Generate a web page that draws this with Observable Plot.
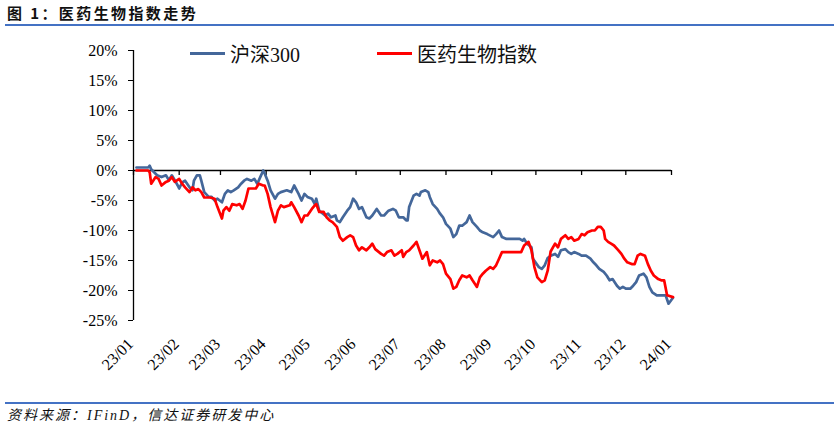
<!DOCTYPE html>
<html><head><meta charset="utf-8">
<script src="https://cdn.jsdelivr.net/npm/d3@7"></script>
<script src="https://cdn.jsdelivr.net/npm/@observablehq/plot@0.6"></script>
<style>
html,body{margin:0;padding:0;background:#fff;}
body{width:838px;height:434px;overflow:hidden;font-family:"Noto Sans CJK SC",sans-serif;}
#title{height:24px;margin:0 4px 0 5px;border-bottom:2px solid #4472C4;font-weight:bold;font-size:15px;line-height:26px;padding-left:2px;color:#111;letter-spacing:2.4px;white-space:nowrap;}
#wrap{position:relative;height:376px;}
#wrap svg{position:absolute;left:0;top:0;}
.leg{position:absolute;display:flex;align-items:center;height:26px;font-size:20px;color:#111;white-space:nowrap;font-family:"Liberation Serif","Noto Sans CJK SC",serif;}
.leg i{display:inline-block;width:35px;height:3px;margin-right:5px;}
#caption{margin:0 4px 0 5px;border-top:2px solid #4472C4;font-style:italic;font-size:14px;line-height:24px;padding-left:2px;color:#111;letter-spacing:2px;white-space:nowrap;font-family:"Liberation Serif","Noto Sans CJK SC",serif;}
</style></head>
<body>
<div id="title">图 1：医药生物指数走势</div>
<div id="wrap">
  <div class="leg" style="left:190px;top:14px;"><i style="background:#44679A"></i><span>沪深300</span></div>
  <div class="leg" style="left:377px;top:14px;"><i style="background:#FF0000"></i><span>医药生物指数</span></div>
</div>
<div id="caption">资料来源：IFinD，信达证券研发中心</div>
<script>
const seriesNames = ["沪深300", "医药生物指数"];
const yTicks = [20, 15, 10, 5, 0, -5, -10, -15, -20, -25];
const tickMonths = ["2023-01-01","2023-02-01","2023-03-01","2023-04-01","2023-05-01","2023-06-01","2023-07-01","2023-08-01","2023-09-01","2023-10-01","2023-11-01","2023-12-01","2024-01-01"];
const tickLabels = ["23/01","23/02","23/03","23/04","23/05","23/06","23/07","23/08","23/09","23/10","23/11","23/12","24/01"];

const hsDates = ["2023-01-03","2023-01-11","2023-01-12","2023-01-13","2023-01-15","2023-01-17","2023-01-20","2023-01-23","2023-01-25","2023-01-27","2023-01-29","2023-01-31","2023-02-01","2023-02-03","2023-02-05","2023-02-08","2023-02-10","2023-02-11","2023-02-13","2023-02-15","2023-02-16","2023-02-18","2023-02-21","2023-02-23","2023-02-25","2023-02-27","2023-03-02","2023-03-04","2023-03-06","2023-03-08","2023-03-10","2023-03-13","2023-03-15","2023-03-17","2023-03-19","2023-03-22","2023-03-24","2023-03-26","2023-03-28","2023-03-30","2023-03-31","2023-04-02","2023-04-04","2023-04-07","2023-04-09","2023-04-11","2023-04-15","2023-04-18","2023-04-20","2023-04-23","2023-04-25","2023-04-27","2023-04-29","2023-05-02","2023-05-04","2023-05-05","2023-05-07","2023-05-11","2023-05-13","2023-05-15","2023-05-18","2023-05-19","2023-05-21","2023-05-23","2023-05-26","2023-05-28","2023-05-30","2023-06-01","2023-06-03","2023-06-05","2023-06-08","2023-06-10","2023-06-12","2023-06-15","2023-06-18","2023-06-20","2023-06-23","2023-06-26","2023-06-28","2023-06-30","2023-07-03","2023-07-05","2023-07-06","2023-07-07","2023-07-10","2023-07-12","2023-07-14","2023-07-15","2023-07-18","2023-07-20","2023-07-21","2023-07-23","2023-07-26","2023-07-28","2023-07-30","2023-08-01","2023-08-04","2023-08-06","2023-08-08","2023-08-10","2023-08-12","2023-08-15","2023-08-17","2023-08-19","2023-08-22","2023-08-24","2023-08-26","2023-08-29","2023-09-02","2023-09-04","2023-09-06","2023-09-08","2023-09-11","2023-09-15","2023-09-20","2023-09-22","2023-09-23","2023-09-25","2023-09-28","2023-09-29","2023-10-03","2023-10-05","2023-10-07","2023-10-09","2023-10-11","2023-10-14","2023-10-16","2023-10-18","2023-10-21","2023-10-23","2023-10-25","2023-10-27","2023-10-30","2023-11-01","2023-11-04","2023-11-07","2023-11-09","2023-11-11","2023-11-13","2023-11-16","2023-11-18","2023-11-20","2023-11-22","2023-11-25","2023-11-27","2023-11-29","2023-12-01","2023-12-04","2023-12-06","2023-12-08","2023-12-10","2023-12-13","2023-12-15","2023-12-17","2023-12-19","2023-12-22","2023-12-25","2023-12-28","2023-12-30","2024-01-02"];
const hsValues = [0.5,0.5,0.8,0.2,-0.3,-0.8,-1.1,-0.8,-1.6,-0.8,-1.6,-2.5,-3.0,-2.0,-1.7,-2.8,-3.3,-1.7,-0.8,-0.8,-1.7,-3.6,-4.4,-4.4,-5.0,-4.7,-5.3,-3.9,-3.3,-3.6,-3.3,-2.8,-2.2,-1.7,-1.4,-1.7,-1.4,-2.2,-1.1,0.0,-0.5,-1.7,-3.3,-4.7,-3.9,-3.6,-3.3,-3.6,-2.5,-3.9,-5.0,-3.9,-4.4,-4.7,-5.6,-4.7,-6.7,-7.5,-7.2,-7.8,-7.5,-8.3,-8.6,-7.8,-6.7,-6.1,-4.7,-5.3,-6.4,-6.1,-7.8,-8.0,-7.5,-6.4,-7.5,-7.5,-6.7,-6.4,-6.7,-7.8,-7.8,-8.3,-8.3,-6.1,-4.2,-3.9,-4.2,-3.6,-3.3,-3.6,-4.4,-5.6,-6.4,-7.2,-7.8,-8.9,-9.7,-11.1,-10.6,-9.2,-9.2,-8.6,-7.5,-8.6,-9.4,-10.0,-10.3,-10.6,-11.1,-10.6,-10.0,-11.1,-11.4,-11.4,-11.4,-11.7,-11.4,-12.2,-12.8,-14.7,-16.1,-16.4,-15.8,-14.6,-14.2,-13.9,-14.4,-13.3,-13.1,-13.6,-13.9,-13.6,-13.9,-14.2,-14.2,-14.7,-15.3,-15.8,-16.4,-16.9,-17.5,-18.3,-18.1,-19.2,-19.7,-19.4,-19.7,-19.7,-19.2,-18.6,-17.5,-17.2,-17.8,-19.4,-20.3,-20.8,-20.8,-20.8,-22.2,-21.2];

const medDates = ["2023-01-03","2023-01-11","2023-01-12","2023-01-13","2023-01-16","2023-01-18","2023-01-20","2023-01-23","2023-01-25","2023-01-27","2023-01-29","2023-02-01","2023-02-03","2023-02-05","2023-02-08","2023-02-10","2023-02-12","2023-02-14","2023-02-16","2023-02-18","2023-02-22","2023-02-25","2023-02-27","2023-03-02","2023-03-03","2023-03-05","2023-03-07","2023-03-09","2023-03-12","2023-03-14","2023-03-16","2023-03-18","2023-03-20","2023-03-23","2023-03-25","2023-03-27","2023-03-30","2023-03-31","2023-04-02","2023-04-04","2023-04-07","2023-04-09","2023-04-11","2023-04-13","2023-04-17","2023-04-18","2023-04-20","2023-04-23","2023-04-25","2023-04-27","2023-04-29","2023-05-02","2023-05-04","2023-05-05","2023-05-07","2023-05-10","2023-05-12","2023-05-14","2023-05-16","2023-05-19","2023-05-21","2023-05-23","2023-05-26","2023-05-28","2023-05-30","2023-06-01","2023-06-03","2023-06-05","2023-06-08","2023-06-10","2023-06-12","2023-06-14","2023-06-18","2023-06-20","2023-06-22","2023-06-25","2023-06-27","2023-06-29","2023-07-02","2023-07-03","2023-07-05","2023-07-07","2023-07-10","2023-07-12","2023-07-14","2023-07-16","2023-07-19","2023-07-21","2023-07-23","2023-07-26","2023-07-28","2023-07-30","2023-08-01","2023-08-04","2023-08-06","2023-08-08","2023-08-10","2023-08-12","2023-08-15","2023-08-17","2023-08-19","2023-08-22","2023-08-24","2023-08-26","2023-08-28","2023-08-31","2023-09-02","2023-09-04","2023-09-06","2023-09-08","2023-09-13","2023-09-17","2023-09-21","2023-09-23","2023-09-26","2023-09-28","2023-09-30","2023-10-02","2023-10-05","2023-10-07","2023-10-09","2023-10-11","2023-10-14","2023-10-16","2023-10-18","2023-10-21","2023-10-23","2023-10-25","2023-10-27","2023-10-30","2023-11-01","2023-11-03","2023-11-05","2023-11-08","2023-11-10","2023-11-12","2023-11-14","2023-11-16","2023-11-17","2023-11-19","2023-11-21","2023-11-23","2023-11-26","2023-11-28","2023-11-30","2023-12-02","2023-12-05","2023-12-07","2023-12-09","2023-12-11","2023-12-14","2023-12-16","2023-12-18","2023-12-20","2023-12-23","2023-12-25","2023-12-27","2023-12-29","2024-01-02"];
const medValues = [0,0,-0.3,-2.2,-1.1,-1.4,-2.5,-1.9,-1.7,-1.1,-1.9,-1.4,-2.2,-2.8,-3.6,-2.8,-3.3,-3.1,-3.6,-4.5,-4.5,-4.7,-6.1,-8.0,-6.7,-6.1,-6.7,-5.6,-5.8,-5.6,-6.4,-5.0,-3.0,-3.0,-3.0,-2.2,-2.5,-2.5,-3.9,-6.1,-8.6,-6.7,-5.8,-6.1,-5.8,-5.3,-6.1,-7.5,-8.6,-7.5,-7.5,-6.4,-5.8,-5.6,-6.9,-6.9,-7.8,-8.3,-8.6,-9.4,-11.1,-11.7,-11.1,-10.8,-11.1,-12.5,-13.3,-12.8,-13.3,-12.8,-12.2,-13.1,-13.9,-14.2,-13.6,-13.3,-14.2,-13.9,-13.3,-14.4,-13.6,-13.3,-12.5,-11.9,-13.3,-14.7,-13.6,-15.8,-15.0,-15.3,-15.0,-15.6,-17.2,-18.1,-19.7,-19.4,-18.3,-17.5,-17.8,-17.5,-18.3,-19.4,-17.8,-17.2,-16.7,-16.1,-16.4,-15.8,-14.7,-13.6,-13.6,-13.6,-13.6,-12.5,-11.9,-13.3,-16.1,-17.8,-18.6,-18.3,-16.7,-13.5,-12.2,-12.8,-11.4,-10.8,-11.4,-11.1,-11.7,-11.4,-10.6,-10.8,-10.3,-10.0,-10.0,-9.4,-9.4,-10.0,-11.4,-11.9,-12.2,-12.5,-13.3,-13.9,-14.7,-15.3,-15.6,-15.6,-14.2,-13.9,-14.2,-15.6,-16.7,-17.5,-18.1,-18.3,-18.3,-20.8,-21.1];

const parse = d3.utcParse("%Y-%m-%d");
const hs = hsDates.map((d, i) => ({date: parse(d), value: hsValues[i], series: seriesNames[0]}));
const med = medDates.map((d, i) => ({date: parse(d), value: medValues[i], series: seriesNames[1]}));
const ticks = tickMonths.map(parse);
const xDomain = [ticks[0], ticks[ticks.length - 1]];
const labelOf = new Map(ticks.map((t, i) => [+t, tickLabels[i]]));

const chart = Plot.plot({
  width: 838,
  height: 376,
  marginTop: 24,
  marginBottom: 82,
  marginLeft: 133,
  marginRight: 167,
  style: {fontFamily: "'Liberation Serif','Times New Roman',serif", fontSize: "16px", color: "#000", background: "transparent", overflow: "visible"},
  x: {type: "utc", domain: xDomain},
  y: {domain: [-25, 20]},
  marks: [
    Plot.ruleX([xDomain[0]], {stroke: "#000", strokeWidth: 1.3}),
    Plot.axisY({ticks: yTicks, tickFormat: d => d + "%", tickSize: 5, tickPadding: 11, fontSize: 16, label: null, stroke: "#000"}),
    Plot.ruleY([0], {stroke: "#000", strokeWidth: 1.3}),
    Plot.ruleX(ticks, {x: d => d, y1: 0, y2: 0, insetBottom: -5, stroke: "#000", strokeWidth: 1.3}),
    Plot.axisX({ticks: ticks, tickFormat: d => labelOf.get(+d), tickRotate: -45, tickSize: 0, tickPadding: 21, dx: -3, fontSize: 16, label: null}),
    Plot.line(hs, {x: "date", y: "value", stroke: "#44679A", strokeWidth: 2.7}),
    Plot.line(med, {x: "date", y: "value", stroke: "#FF0000", strokeWidth: 2.7})
  ]
});
document.getElementById("wrap").prepend(chart);
</script>
</body></html>
